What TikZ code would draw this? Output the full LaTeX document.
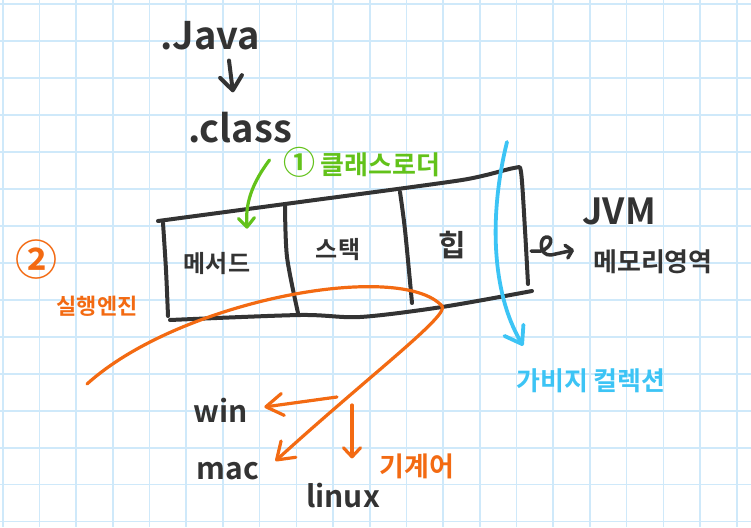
\documentclass[tikz,border=0pt]{standalone}
\usepackage{fontspec}
\setmainfont{Noto Sans CJK KR}[BoldFont={Noto Sans CJK KR Bold}]
\usetikzlibrary{arrows.meta}

\definecolor{ink}{HTML}{333333}
\definecolor{gridblue}{HTML}{CFE9FA}
\definecolor{loadgreen}{HTML}{62C21A}
\definecolor{runorange}{HTML}{F36A12}
\definecolor{gcblue}{HTML}{3CC4F5}

\begin{document}
\begin{tikzpicture}[
  x=1pt, y=-1pt,
  sz/.style={font=\fontsize{#1pt}{#1pt}\selectfont\bfseries},
  hand/.style={inner sep=0pt, text=ink},
  gridline/.style={draw=gridblue, line width=1.6pt},
  stroke/.style={draw=ink, line width=4pt, line cap=round, line join=round},
  pen/.style={line width=3.2pt, line cap=round, line join=round},
  barb/.style={-{Straight Barb[length=#1, width=22pt, round]}},
  barb/.default=15pt,
]

% =========================== paper ===============================
\fill[white] (0,0) rectangle (751,527);
\useasboundingbox (0,0) rectangle (751,527);
\foreach \i in {0,...,20}{
  \draw[gridline] ({2.7+36.7*\i},0) -- ({2.7+36.7*\i},527);
}
\foreach \j in {0,...,14}{
  \draw[gridline] (0,{4.3+36.95*\j}) -- (751,{4.3+36.95*\j});
}

% =========================== source -> bytecode ==================
\node[hand, sz=38] (java) at (210,36) {.Java};
\node[hand, sz=38] (class) at (240,128) {.class};
\draw[stroke, barb=14pt] ([xshift=19pt,yshift=-10pt]java.south)
  -- ([xshift=-7pt,yshift=20pt]class.north);

\node[hand, sz=26, text=loadgreen] (loader) at (362,162)
  {{\fontsize{32pt}{32pt}\selectfont ①}\hspace{5pt}클래스로더};

% =========================== memory area =========================
\draw[stroke] plot[smooth, tension=0.4] coordinates
  {(158,221) (300,202) (462,180) (514,168) (521,172) (525,230) (528,284)};
\draw[stroke] plot[smooth] coordinates {(163,223) (166,270) (168,316)};
\draw[stroke] plot[smooth] coordinates
  {(170,320) (300,315) (360,317) (442,307) (532,291)};
\draw[stroke] plot[smooth] coordinates {(285,205) (287,257) (298,313)};
\draw[stroke] plot[smooth] coordinates {(400,192) (405,230) (412,303)};

\node[hand, sz=24] (method) at (217,264) {메서드};
\node[hand, sz=24] (stack) at (338,250) {스택};
\node[hand, sz=30] (heap) at (452,245) {힙};

\node[hand, sz=36] (jvm) at (619,211) {JVM};
\node[hand, sz=26] (mem) at (653,262) {메모리영역};

\coordinate (mout) at (531,251);
\draw[stroke, line width=3.5pt, -{Straight Barb[length=6pt, width=13pt, round]}]
  (mout) -- (541,251) .. controls (553,247) and (553,236) .. (546,237)
  .. controls (539,238) and (539,256) .. (551,255)
  -- ([xshift=-19pt,yshift=12pt]mem.west);

% class loader
\draw[pen, draw=loadgreen, -{Straight Barb[length=9pt, width=16pt, round]}]
  ([xshift=-14pt,yshift=2pt]loader.west)
  .. controls (247,190) and (246,210) .. ([xshift=30pt,yshift=24pt]method.north);

% garbage collection
\node[hand, sz=26, text=gcblue] (gc) at (591,381) {가비지 컬렉션};
\coordinate (gcstart) at (507,142);
\draw[pen, line width=3.8pt, draw=gcblue, barb=16pt]
  (gcstart) .. controls (490,210) and (490,290) .. ([xshift=7pt,yshift=23pt]gc.north west);

% =========================== execution engine ====================
\node[hand, sz=42, text=runorange] (num) at (36,260) {②};
\node[hand, sz=22, text=runorange] (engine) at (97,306) {실행엔진};

\node[hand, sz=30] (win) at (221,410) {win};
\node[hand, sz=30] (mac) at (228,471) {mac};
\node[hand, sz=30] (linux) at (343,496) {linux};
\node[hand, sz=27, text=runorange] (native) at (417,466) {기계어};

\coordinate (engstart) at (87,384);
\coordinate (wstart) at (337,397);
\coordinate (lstart) at (352,405);

\draw[pen, draw=runorange, barb=16pt]
  (engstart) .. controls (180,300) and (400,260) .. (442,306)
  .. controls (450,315) and (370,375) .. ([xshift=16pt,yshift=1pt]mac.north east);
\draw[pen, draw=runorange, barb=17pt]
  (wstart) -- ([xshift=16pt,yshift=3pt]win.east);
\draw[pen, draw=runorange, -{Straight Barb[length=9pt, width=17pt, round]}]
  (lstart) -- ([xshift=9pt,yshift=25pt]linux.north);

\end{tikzpicture}
\end{document}
